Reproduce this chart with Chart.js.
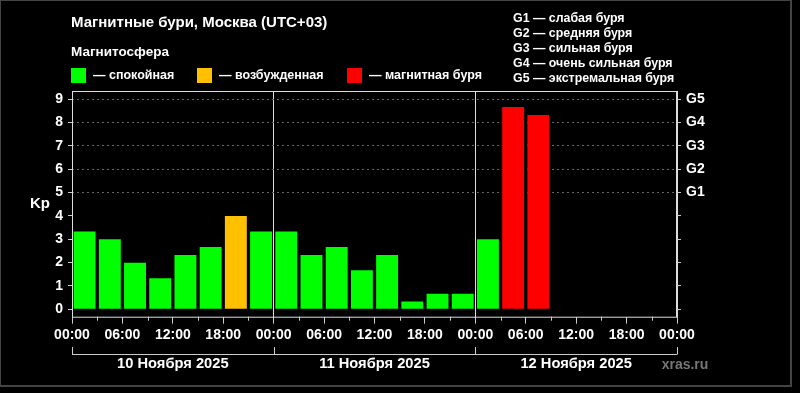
<!DOCTYPE html>
<html lang="ru">
<head>
    <meta charset="UTF-8">
    <title>Магнитные бури, Москва</title>
    <style>
        html, body { margin: 0; padding: 0; background: #000; }
        .chart-box { width: 800px; height: 393px; }
    </style>
</head>
<body>
    <div class="chart-box">
        <canvas id="kpChart" width="800" height="393"></canvas>
    </div>

    <script src="https://cdn.jsdelivr.net/npm/chart.js"></script>
    <script>
        // Индекс Kp по 3-часовым интервалам
        const kpDay1 = [3.33, 3, 2, 1.33, 2.33, 2.67, 4, 3.33];
        const kpDay2 = [3.33, 2.33, 2.67, 1.67, 2.33, 0.33, 0.67, 0.67];
        const kpDay3 = [3, 8.67, 8.33];
        const dayLabels = ['10 Ноября 2025', '11 Ноября 2025', '12 Ноября 2025'];
        const timeLabels = ['00:00', '06:00', '12:00', '18:00'];
        const kpTicks = [0, 1, 2, 3, 4, 5, 6, 7, 8, 9];
        const gTicks = ['G1', 'G2', 'G3', 'G4', 'G5'];
        const stateLabels = ['— спокойная', '— возбужденная', '— магнитная буря'];
        const stateColors = ['#00ff00', '#ffc000', '#ff0000'];
        const gLegend = [
            'G1 — слабая буря',
            'G2 — средняя буря',
            'G3 — сильная буря',
            'G4 — очень сильная буря',
            'G5 — экстремальная буря'
        ];

        const points = [];
        [kpDay1, kpDay2, kpDay3].forEach((day, d) => {
            day.forEach((v, i) => points.push({ x: d * 24 + i * 3 + 1.5, y: v }));
        });

        function stateOf(v) {
            if (v < 4) return 0;
            if (v < 5) return 1;
            return 2;
        }

        const FONT = 'Liberation Sans, Arial, sans-serif';
        Chart.defaults.font.family = FONT;
        Chart.defaults.font.weight = 'bold';
        Chart.defaults.color = '#ffffff';

        // Всё, что не рисует сама библиотека: заголовок, легенды, рамки, даты
        const decorPlugin = {
            id: 'decor',
            beforeDraw(chart) {
                const c = chart.ctx;
                c.save();
                c.fillStyle = '#000';
                c.fillRect(0, 0, chart.width, chart.height);
                c.restore();
            },
            afterDraw(chart) {
                const c = chart.ctx;
                const a = chart.chartArea;
                const x = chart.scales.x;
                c.save();

                // внешняя рамка
                c.strokeStyle = '#444';
                c.lineWidth = 2;
                c.strokeRect(0, 0, 791, 386);

                c.fillStyle = '#fff';
                c.textBaseline = 'middle';
                c.textAlign = 'left';
                c.font = 'bold 15px ' + FONT;
                c.fillText('Магнитные бури, Москва (UTC+03)', 71, 23);
                c.font = 'bold 13.5px ' + FONT;
                c.fillText('Магнитосфера', 71, 52);

                c.font = 'bold 12.5px ' + FONT;
                const sx = [71, 197, 347];
                stateLabels.forEach((t, i) => {
                    c.fillStyle = stateColors[i];
                    c.fillRect(sx[i], 68, 15, 15);
                    c.fillStyle = '#fff';
                    c.fillText(t, sx[i] + 22, 76);
                });

                c.font = 'bold 12.4px ' + FONT;
                gLegend.forEach((t, i) => c.fillText(t, 513, 19 + i * 15));

                // рамка области графика
                c.strokeStyle = '#dddddd';
                c.lineWidth = 1;
                c.strokeRect(a.left + 0.5, a.top + 0.5, a.right - a.left - 1, a.bottom - a.top);

                // короткие засечки через 3 часа
                c.strokeStyle = '#cccccc';
                x.ticks.forEach(t => {
                    if (t.value % 6 !== 0) {
                        const px = Math.round(x.getPixelForValue(t.value)) + 0.5;
                        c.beginPath();
                        c.moveTo(px, a.bottom);
                        c.lineTo(px, a.bottom + 4);
                        c.stroke();
                    }
                });

                c.font = 'bold 15px ' + FONT;
                c.textAlign = 'center';
                c.fillText('Kp', 40, (a.top + a.bottom) / 2);

                // скобки дней
                const by = 354.5;
                c.beginPath();
                c.moveTo(x.getPixelForValue(0), by);
                c.lineTo(x.getPixelForValue(72), by);
                for (let h = 0; h <= 72; h += 24) {
                    const px = Math.round(x.getPixelForValue(h)) + 0.5;
                    c.moveTo(px, 347);
                    c.lineTo(px, by);
                }
                c.stroke();

                c.font = 'bold 14.7px ' + FONT;
                dayLabels.forEach((t, d) => {
                    c.fillText(t, x.getPixelForValue(d * 24 + 12), 364);
                });

                c.font = 'bold 14px ' + FONT;
                c.fillStyle = '#777';
                c.fillText('xras.ru', 685, 365);
                c.restore();
            }
        };

        const ctx = document.getElementById('kpChart').getContext('2d');
        const kpChart = new Chart(ctx, {
            type: 'bar',
            data: {
                datasets: [{
                    label: 'Kp',
                    data: points,
                    backgroundColor: (cx) => stateColors[stateOf(cx.raw ? cx.raw.y : 0)],
                    borderWidth: 0,
                    barPercentage: 0.87,
                    categoryPercentage: 1
                }]
            },
            options: {
                responsive: false,
                animation: false,
                layout: { padding: { top: 91, left: 0, right: 0, bottom: 0 } },
                plugins: {
                    legend: { display: false },
                    tooltip: { enabled: false }
                },
                scales: {
                    x: {
                        type: 'linear',
                        min: 0,
                        max: 72,
                        offset: false,
                        afterBuildTicks: (s) => {
                            const t = [];
                            for (let h = 0; h <= 72; h += 3) t.push({ value: h });
                            s.ticks = t;
                        },
                        afterFit: (s) => { s.height = 76.3; },
                        ticks: {
                            autoSkip: false,
                            maxRotation: 0,
                            padding: 3,
                            color: '#fff',
                            font: { size: 14, weight: 'bold' },
                            callback: (v) => (v % 6 === 0 ? timeLabels[(v % 24) / 6] : '')
                        },
                        grid: {
                            offset: false,
                            color: (cx) => (cx.tick && cx.tick.value % 24 === 0 ? '#dddddd' : 'rgba(0,0,0,0)'),
                            tickColor: (cx) => (cx.tick && cx.tick.value % 6 === 0 ? '#cccccc' : 'rgba(0,0,0,0)'),
                            tickLength: 7
                        },
                        border: { display: false }
                    },
                    y: {
                        position: 'left',
                        min: -0.317,
                        max: 9.356,
                        afterBuildTicks: (s) => { s.ticks = kpTicks.map(v => ({ value: v })); },
                        afterFit: (s) => { s.width = 72; },
                        ticks: {
                            padding: 5,
                            color: '#fff',
                            font: { size: 14, weight: 'bold' }
                        },
                        grid: {
                            color: (cx) => (cx.tick && cx.tick.value >= 5 ? '#666666' : 'rgba(0,0,0,0)'),
                            tickColor: '#cccccc',
                            tickBorderDash: [],
                            tickLength: 4
                        },
                        border: { display: false, dash: [2, 3] }
                    },
                    y2: {
                        position: 'right',
                        min: -0.317,
                        max: 9.356,
                        afterBuildTicks: (s) => { s.ticks = kpTicks.map(v => ({ value: v })); },
                        afterFit: (s) => { s.width = 123; },
                        ticks: {
                            padding: 5,
                            color: '#fff',
                            font: { size: 14, weight: 'bold' },
                            callback: (v) => (v >= 5 ? gTicks[v - 5] : '')
                        },
                        grid: {
                            drawOnChartArea: false,
                            tickColor: '#cccccc',
                            tickLength: 4
                        },
                        border: { display: false }
                    }
                }
            },
            plugins: [decorPlugin]
        });
    </script>
</body>
</html>
